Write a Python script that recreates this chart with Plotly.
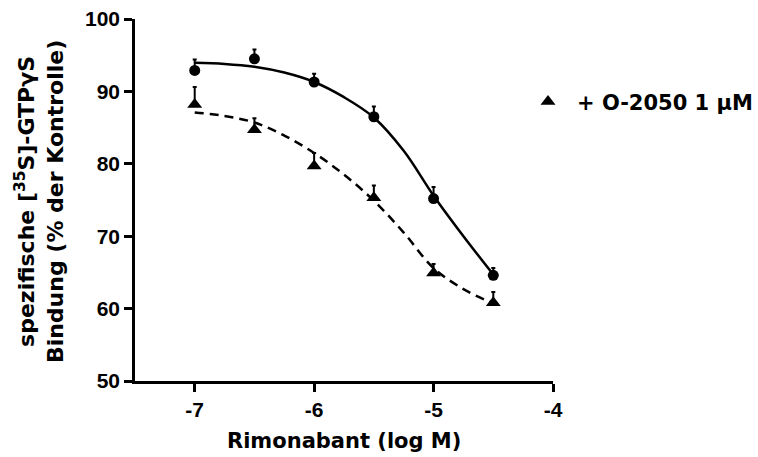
import plotly.graph_objects as go

# Data points (log M) and measured values
x_pts = [-7.0, -6.5, -6.0, -5.5, -5.0, -4.5]
ctrl_vals = [92.9, 94.5, 91.3, 86.5, 75.2, 64.6]
ctrl_err = [1.5, 1.3, 1.15, 1.4, 1.6, 1.0]
o2050_vals = [88.2, 84.7, 79.7, 75.3, 64.9, 60.8]
o2050_err = [2.4, 1.6, 1.8, 1.7, 1.25, 1.5]

# Fitted curves
x_fit = [-7.0, -6.75, -6.5, -6.25, -6.0, -5.75, -5.5, -5.25, -5.0, -4.75, -4.5]
ctrl_fit = [93.95, 93.8, 93.4, 92.6, 91.3, 89.2, 86.4, 81.8, 75.6, 70.0, 64.7]
o2050_fit = [87.1, 86.6, 85.7, 83.9, 81.5, 78.5, 74.9, 70.5, 65.6, 62.7, 60.7]

x_ticks = [-7, -6, -5, -4]
x_ticktext = ["-7", "-6", "-5", "-4"]
y_ticks = [50, 60, 70, 80, 90, 100]

legend_label = "+ O-2050 1 µM"
x_title = "Rimonabant (log M)"
y_title = "spezifische [<sup>35</sup>S]-GTPγS<br>Bindung (% der Kontrolle)"

TICKFONT = dict(family="Liberation Sans, Arial, sans-serif", size=21, color="black", weight=700)
TITLEFONT = dict(family="DejaVu Sans, sans-serif", size=21, color="black", weight=700)
YTITLEFONT = dict(family="DejaVu Sans, sans-serif", size=22, color="black", weight=700)

W, H = 758, 457
ML, MT, MB = 135, 19, 76
PLOT_W = 418  # plot area width in px
PAPER_W = W - ML

fig = go.Figure()

fig.add_trace(go.Scatter(x=x_fit, y=ctrl_fit, mode="lines", line=dict(color="black", width=2.5, shape="spline"),
                         showlegend=False, hoverinfo="skip"))
fig.add_trace(go.Scatter(x=x_fit, y=o2050_fit, mode="lines",
                         line=dict(color="black", width=2.5, shape="spline", dash="9px,6px"),
                         showlegend=False, hoverinfo="skip"))

fig.add_trace(go.Scatter(x=x_pts, y=ctrl_vals, mode="markers",
                         marker=dict(symbol="circle", size=11, color="black"),
                         error_y=dict(type="data", array=ctrl_err, arrayminus=[0]*len(ctrl_err),
                                      symmetric=False, color="black", thickness=2, width=2),
                         showlegend=False, name="Kontrolle"))
fig.add_trace(go.Scatter(x=x_pts, y=o2050_vals, mode="markers",
                         marker=dict(symbol="triangle-up", size=13, color="black"),
                         error_y=dict(type="data", array=o2050_err, arrayminus=[0]*len(o2050_err),
                                      symmetric=False, color="black", thickness=2, width=2),
                         showlegend=True, name=legend_label))

fig.update_layout(
    width=W, height=H,
    margin=dict(l=ML, r=0, t=MT, b=MB, autoexpand=False),
    paper_bgcolor="white", plot_bgcolor="white",
    legend=dict(x=(519 - ML) / PAPER_W, y=0.771, xanchor="left", yanchor="middle", font=TITLEFONT,
                bgcolor="rgba(0,0,0,0)", itemwidth=48),
    xaxis=dict(domain=[0, PLOT_W / PAPER_W], range=[-7.5, -4], tickvals=x_ticks, ticktext=x_ticktext,
               showline=True, linewidth=2.5,
               linecolor="black", ticks="outside", ticklen=8, tickwidth=2.5, tickcolor="black",
               showgrid=False, zeroline=False, tickfont=TICKFONT),
    yaxis=dict(range=[50, 100], tickvals=y_ticks, showline=True, linewidth=2.5, linecolor="black",
               ticks="outside", ticklen=8, tickwidth=2.5, tickcolor="black",
               showgrid=False, zeroline=False, tickfont=TICKFONT),
    annotations=[
        dict(text=x_title, xref="x domain", yref="y domain", x=0.5, y=-0.166, xanchor="center",
             yanchor="middle", showarrow=False, font=TITLEFONT),
        dict(text=y_title, xref="x domain", yref="y domain", x=-0.227, y=0.4945, xanchor="center",
             yanchor="middle", showarrow=False, textangle=-90, font=YTITLEFONT),
    ],
)

fig.write_html("out.html")
